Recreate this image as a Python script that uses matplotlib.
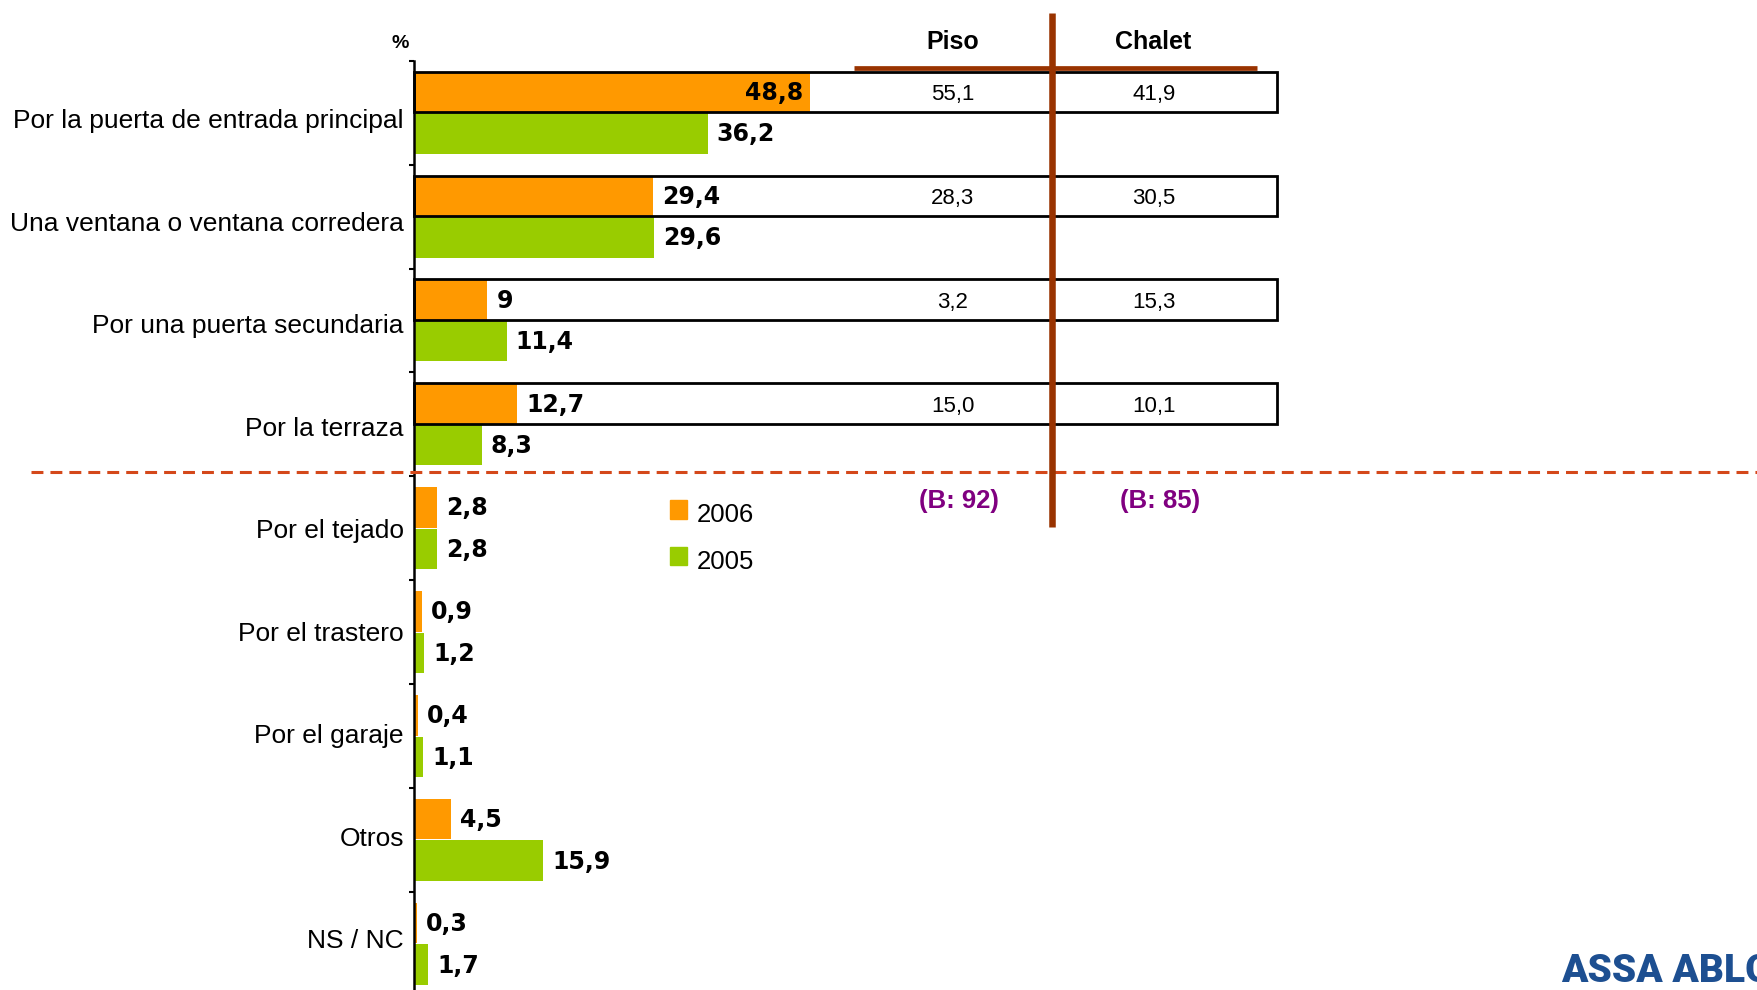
import matplotlib
matplotlib.use("Agg")
import matplotlib.pyplot as plt
import numpy as np
from matplotlib import transforms
from matplotlib.patches import Rectangle

plt.rcParams['font.family'] = ['Liberation Sans', 'DejaVu Sans']

# data
categories = ['Por la puerta de entrada principal', 'Una ventana o ventana corredera',
              'Por una puerta secundaria', 'Por la terraza', 'Por el tejado',
              'Por el trastero', 'Por el garaje', 'Otros', 'NS / NC']
vals_2006 = [48.8, 29.4, 9, 12.7, 2.8, 0.9, 0.4, 4.5, 0.3]
vals_2005 = [36.2, 29.6, 11.4, 8.3, 2.8, 1.2, 1.1, 15.9, 1.7]
piso = [55.1, 28.3, 3.2, 15.0]
chalet = [41.9, 30.5, 15.3, 10.1]
bases = ['(B: 92)', '(B: 85)']
series_names = ['2006', '2005']

ORANGE = '#FF9900'
GREEN = '#99CC00'
BROWN = '#993300'

W, H = 1758, 990
fig = plt.figure(figsize=(W / 100, H / 100), dpi=100)

# main axes in pixel terms
ax_left, ax_top, unit_px, group_px = 414.5, 60.7, 8.1, 103.9
n = len(categories)
xmax = 165
ax = fig.add_axes([ax_left / W, (H - (ax_top + n * group_px)) / H,
                   xmax * unit_px / W, n * group_px / H])
ax.set_xlim(0, xmax)
ax.set_ylim(n - 0.5, -0.5)

y = np.arange(n)
h = 0.39
ax.barh(y - 0.2, vals_2006, height=h, color=ORANGE, zorder=2)
ax.barh(y + 0.2, vals_2005, height=h, color=GREEN, zorder=2)

for s in ['top', 'right', 'bottom']:
    ax.spines[s].set_visible(False)
ax.spines['left'].set_linewidth(1.8)
ax.spines['left'].set_zorder(4)
ax.set_xticks([])
ax.set_yticks(np.arange(-0.5, n + 0.5, 1))
ax.set_yticklabels([])
ax.tick_params(axis='y', length=3.8, width=1.5, direction='out')

def fmt(v):
    return f"{v:g}".replace('.', ',')

lab_kw = dict(fontsize=17, fontweight='bold', family='DejaVu Sans', va='baseline', zorder=5)
for i, v in enumerate(vals_2006):
    if v > 45:
        ax.annotate(fmt(v), xy=(v, i - 0.2), xytext=(-7, -8), textcoords='offset pixels',
                    ha='right', **lab_kw)
    else:
        ax.annotate(fmt(v), xy=(v, i - 0.2), xytext=(9, -8), textcoords='offset pixels',
                    ha='left', **lab_kw)
for i, v in enumerate(vals_2005):
    ax.annotate(fmt(v), xy=(v, i + 0.2), xytext=(9, -8), textcoords='offset pixels',
                ha='left', **lab_kw)

# boxes around the 2006 rows that carry Piso / Chalet values
box_right = (1277 - ax_left) / unit_px
for i in range(len(piso)):
    ax.add_patch(Rectangle((0, i - 0.2 - h / 2), box_right, h, fill=False,
                           edgecolor='black', linewidth=2.0, clip_on=False, zorder=3))

# overlay in pixel coordinates
ov = fig.add_axes([0, 0, 1, 1], zorder=5)
ov.set_xlim(0, W)
ov.set_ylim(H, 0)
ov.axis('off')
ov.patch.set_alpha(0)

# category labels (own spacing, slightly tighter than the bar groups)
lab_y0, lab_step = 128.4, 102.5
for i, c in enumerate(categories):
    ov.text(404, lab_y0 + i * lab_step, c, ha='right', va='baseline', fontsize=19)

mix = transforms.blended_transform_factory(ov.transData, ax.transData)
col_x = [953, 1154]
for i in range(len(piso)):
    for cx, v in zip(col_x, [piso[i], chalet[i]]):
        ov.annotate(f"{v:.1f}".replace('.', ','), xy=(cx, i - 0.2), xycoords=mix,
                    xytext=(0, -8), textcoords='offset pixels', ha='center',
                    va='baseline', fontsize=16)

ov.text(953, 42, 'Piso', ha='center', va='center', fontsize=18, fontweight='bold')
ov.text(1153, 42, 'Chalet', ha='center', va='center', fontsize=18, fontweight='bold')
ov.text(400, 43, '%', ha='center', va='center', fontsize=14, fontweight='bold')

ov.plot([854, 1257], [68.4, 68.4], color=BROWN, lw=3.4, solid_capstyle='butt')
ov.plot([1052, 1052], [13, 527], color=BROWN, lw=4.7, solid_capstyle='butt', zorder=6)
ov.plot([31, W], [472, 472], color='#D4481A', lw=2.2, linestyle=(0, (3.9, 2.3)))

for cx, b in zip(col_x, bases):
    ov.text(cx + 6, 501, b, ha='center', va='center', fontsize=18.5,
            fontweight='bold', color='#800080')

# legend
for (yy, col, name, base) in [(500, ORANGE, series_names[0], 521.7),
                              (546.7, GREEN, series_names[1], 569)]:
    ov.add_patch(Rectangle((670, yy), 16.7, 18.6, color=col))
    ov.text(697, base, name, ha='left', va='baseline', fontsize=18.5)

ov.text(1561, 982, 'ASSA ABLOY', ha='left', va='baseline', fontsize=28,
        fontweight='black', color='#1D4F91', family=['Roboto', 'Liberation Sans'])

fig.savefig('out.png', dpi=100)
